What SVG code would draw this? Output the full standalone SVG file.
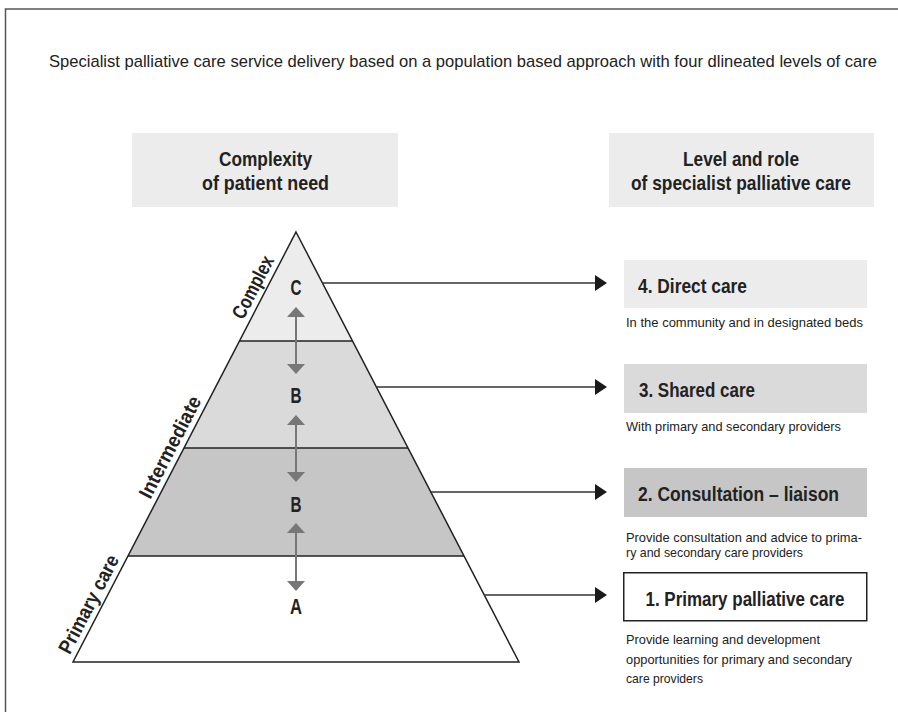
<svg xmlns="http://www.w3.org/2000/svg" width="898" height="712" viewBox="0 0 898 712">
<style>
  text { font-family: "Liberation Sans Narrow", "Liberation Sans", "DejaVu Sans Condensed", sans-serif; fill: #222; }
  .title { font-size: 17px; }
  .hdr { font-size: 21px; font-weight: bold; text-anchor: middle; }
  .lvl { font-size: 20px; font-weight: bold; }
  .sub { font-size: 13.5px; }
  .let { font-size: 22px; font-weight: bold; text-anchor: middle; }
  .side { font-size: 20px; font-weight: bold; text-anchor: middle; }
  .edge { stroke: #222; stroke-width: 1.5; }
  .conn { stroke: #333; stroke-width: 1.6; fill: none; }
  .head { fill: #1a1a1a; }
  .dbl { stroke: #777; stroke-width: 2; }
  .dblh { fill: #777; }
</style>
<rect width="898" height="712" fill="#fff"/>
<rect x="5.5" y="9" width="900" height="710" fill="none" stroke="#555" stroke-width="1.5"/>

<text class="title" x="49" y="67" textLength="828" lengthAdjust="spacingAndGlyphs">Specialist palliative care service delivery based on a population based approach with four dlineated levels of care</text>

<g id="header-left">
  <rect x="132" y="133" width="266" height="74" fill="#ececec"/>
  <text class="hdr" x="265.5" y="166" textLength="93" lengthAdjust="spacingAndGlyphs">Complexity</text>
  <text class="hdr" x="265.5" y="190" textLength="127" lengthAdjust="spacingAndGlyphs">of patient need</text>
</g>
<g id="header-right">
  <rect x="609" y="133" width="265" height="74" fill="#ececec"/>
  <text class="hdr" x="741" y="166" textLength="116" lengthAdjust="spacingAndGlyphs">Level and role</text>
  <text class="hdr" x="741" y="190" textLength="220" lengthAdjust="spacingAndGlyphs">of specialist palliative care</text>
</g>

<g id="pyramid">
  <polygon points="296,232 352.5,341 239.5,341" fill="#ececec"/>
  <polygon points="239.5,341 352.5,341 408,448 184,448" fill="#dadada"/>
  <polygon points="184,448 408,448 464,556 128,556" fill="#c6c6c6"/>
  <polygon points="128,556 464,556 519,662 73,662" fill="#fff"/>
  <line class="edge" x1="239.5" y1="341" x2="352.5" y2="341"/>
  <line class="edge" x1="184" y1="448" x2="408" y2="448"/>
  <line class="edge" x1="128" y1="556" x2="464" y2="556"/>
  <polygon points="296,232 519,662 73,662" fill="none" stroke="#222" stroke-width="1.5"/>
</g>

<g id="level-C">
  <text class="let" x="296" y="295" textLength="11" lengthAdjust="spacingAndGlyphs">C</text>
</g>
<g id="level-B-upper">
  <text class="let" x="296" y="403" textLength="11" lengthAdjust="spacingAndGlyphs">B</text>
</g>
<g id="level-B-lower">
  <text class="let" x="296" y="512" textLength="11" lengthAdjust="spacingAndGlyphs">B</text>
</g>
<g id="level-A">
  <text class="let" x="296" y="614" textLength="12" lengthAdjust="spacingAndGlyphs">A</text>
</g>

<g id="side-labels">
  <text class="side" transform="translate(259,290.2) rotate(-62.58)" textLength="68" lengthAdjust="spacingAndGlyphs">Complex</text>
  <text class="side" transform="translate(176.1,450.2) rotate(-62.58)" textLength="112" lengthAdjust="spacingAndGlyphs">Intermediate</text>
  <text class="side" transform="translate(94.7,607.2) rotate(-62.58)" textLength="108" lengthAdjust="spacingAndGlyphs">Primary care</text>
</g>

<g id="double-arrows">
  <line class="dbl" x1="296" y1="315" x2="296" y2="366"/>
  <polygon class="dblh" points="296,307 305,317 287,317"/>
  <polygon class="dblh" points="296,374 305,364 287,364"/>
  <line class="dbl" x1="296" y1="423" x2="296" y2="474"/>
  <polygon class="dblh" points="296,415 305,425 287,425"/>
  <polygon class="dblh" points="296,482 305,472 287,472"/>
  <line class="dbl" x1="296" y1="531" x2="296" y2="583"/>
  <polygon class="dblh" points="296,523 305,533 287,533"/>
  <polygon class="dblh" points="296,591 305,581 287,581"/>
</g>

<g id="connectors">
  <line class="conn" x1="322.4" y1="283" x2="597" y2="283"/>
  <polygon class="head" points="595,275 607,283 595,291"/>
  <line class="conn" x1="376.4" y1="387" x2="597" y2="387"/>
  <polygon class="head" points="595,379 607,387 595,395"/>
  <line class="conn" x1="430.8" y1="492" x2="597" y2="492"/>
  <polygon class="head" points="595,484 607,492 595,500"/>
  <line class="conn" x1="484.3" y1="595" x2="597" y2="595"/>
  <polygon class="head" points="595,587 607,595 595,603"/>
</g>

<g id="care-4">
  <rect x="624" y="260" width="243" height="48" fill="#ececec"/>
  <text class="lvl" x="638" y="293" textLength="109" lengthAdjust="spacingAndGlyphs">4. Direct care</text>
  <text class="sub" x="626" y="327" textLength="237" lengthAdjust="spacingAndGlyphs">In the community and in designated beds</text>
</g>
<g id="care-3">
  <rect x="624" y="364" width="243" height="49" fill="#dadada"/>
  <text class="lvl" x="639" y="397" textLength="116" lengthAdjust="spacingAndGlyphs">3. Shared care</text>
  <text class="sub" x="626" y="431" textLength="215" lengthAdjust="spacingAndGlyphs">With primary and secondary providers</text>
</g>
<g id="care-2">
  <rect x="624" y="468" width="243" height="49" fill="#c6c6c6"/>
  <text class="lvl" x="638" y="501" textLength="201" lengthAdjust="spacingAndGlyphs">2. Consultation – liaison</text>
  <text class="sub" x="626" y="542" textLength="236" lengthAdjust="spacingAndGlyphs">Provide consultation and advice to prima-</text>
  <text class="sub" x="626" y="557" textLength="177" lengthAdjust="spacingAndGlyphs">ry and secondary care providers</text>
</g>
<g id="care-1">
  <rect x="623.75" y="572.75" width="243" height="48" fill="#fff" stroke="#222" stroke-width="1.5"/>
  <text class="lvl" x="745" y="606" style="font-size:21px;text-anchor:middle" textLength="199" lengthAdjust="spacingAndGlyphs">1. Primary palliative care</text>
  <text class="sub" x="626" y="644" textLength="194" lengthAdjust="spacingAndGlyphs">Provide learning and development</text>
  <text class="sub" x="626" y="664" textLength="226" lengthAdjust="spacingAndGlyphs">opportunities for primary and secondary</text>
  <text class="sub" x="626" y="683" textLength="77" lengthAdjust="spacingAndGlyphs">care providers</text>
</g>
</svg>
